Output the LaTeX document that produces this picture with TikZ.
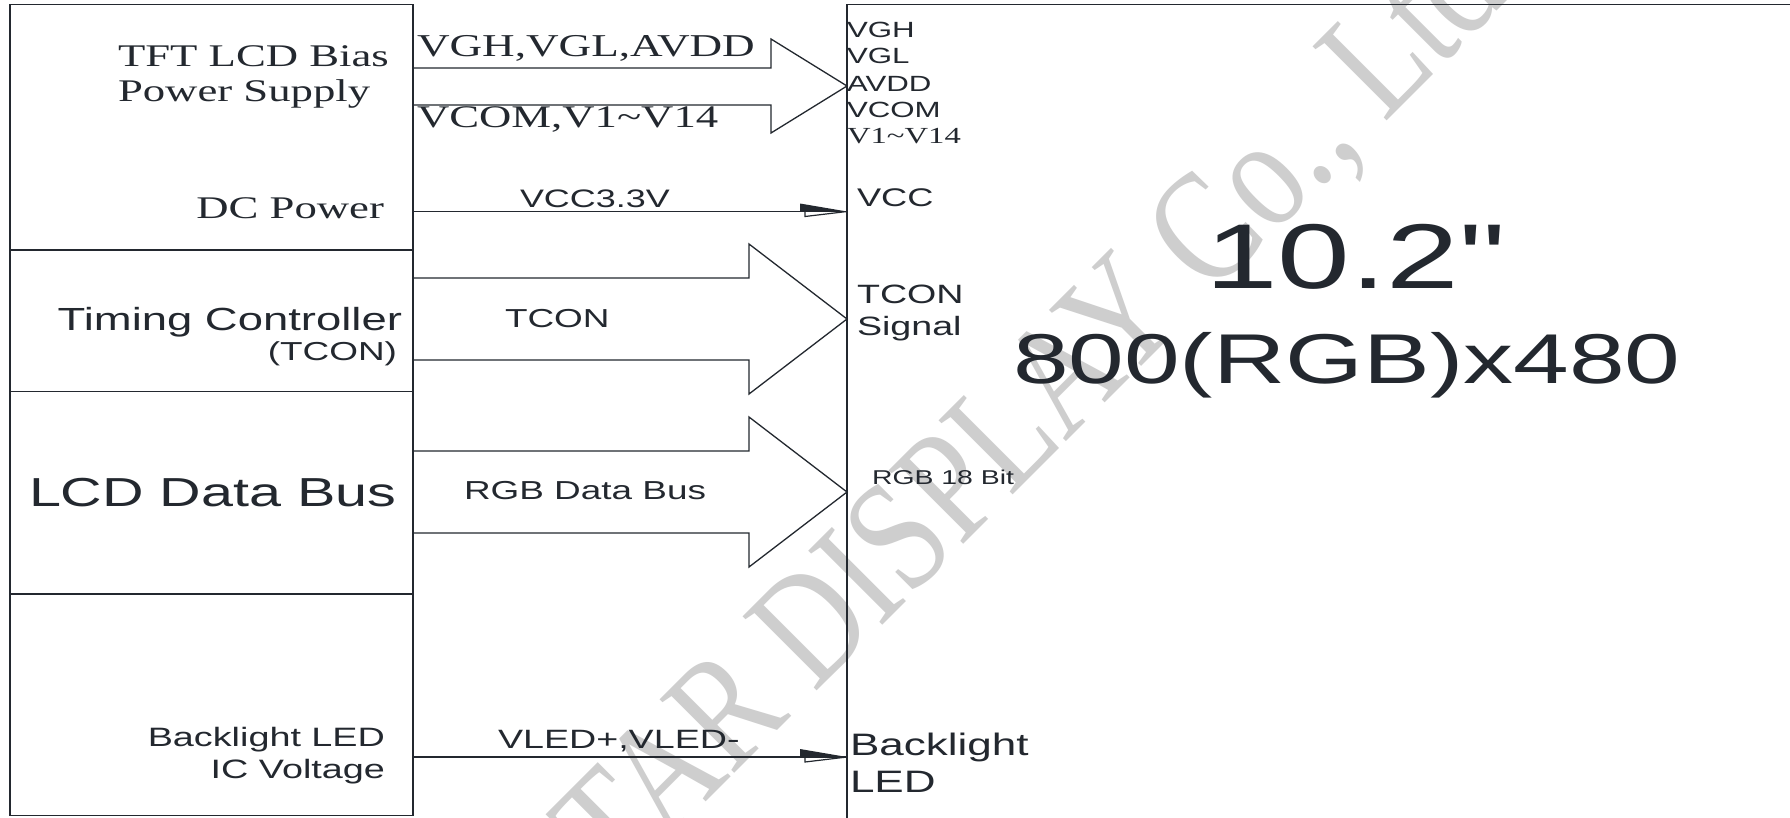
\documentclass[tikz,border=0pt]{standalone}
\usepackage{fontspec}
\newfontfamily\SerifW[FakeStretch=1.42,Ligatures=TeXOff]{Liberation Serif}
\newfontfamily\SansW[FakeStretch=1.42,Ligatures=TeXOff]{Liberation Sans}
\newfontfamily\WMfont[Ligatures=TeXOff]{Liberation Serif}
\newcommand\rmsz[1]{\SerifW\fontsize{#1}{#1}\selectfont}
\newcommand\sfsz[1]{\SansW\fontsize{#1}{#1}\selectfont}
\definecolor{ink}{RGB}{35,40,47}
\definecolor{wm}{RGB}{206,206,206}
\begin{document}
\begin{tikzpicture}[x=1pt,y=-1pt,
  box/.style={draw=ink, line width=1.4pt, inner sep=0pt, outer sep=0pt, anchor=north west},
  bigarrow/.style={draw=ink, line width=1.3pt, line join=miter},
  wire/.style={draw=ink, line width=1.4pt},
  lbl/.style={inner sep=0pt, outer sep=0pt, text=ink},
  halfhead/.pic={\fill[ink] (-47,-8) -- (0,0) -- (-47,0) -- cycle;
                 \draw[ink, line width=1.2pt] (-42,0) -- (-42,5) -- (0,0);}
]
\useasboundingbox (0,0) rectangle (1790,817);
\fill[white] (0,0) rectangle (1790,817);
\clip (0,0) rectangle (1790,817);

% watermark
\node[lbl, text=wm, anchor=base west, rotate=45] (wmark) at (618,890)
  {\WMfont\fontsize{128}{128}\selectfont\scalebox{1}[1.25]{TAR DISPLAY Co., Ltd}};

% boxes
\node[box, minimum width=403pt, minimum height=245.5pt] (sec1) at (10,4.5) {};
\node[box, minimum width=403pt, minimum height=141.5pt] (sec2) at (10,250) {};
\node[box, minimum width=403pt, minimum height=202.5pt] (sec3) at (10,391.5) {};
\node[box, minimum width=403pt, minimum height=221.5pt] (sec4) at (10,594) {};
\node[box, minimum width=1000pt, minimum height=900pt] (panel) at (847,4.5) {};

% big hollow arrows
\draw[bigarrow] (sec1.east |- 0,68) -- (771,68) -- (771,39) -- (panel.west |- 0,86)
  -- (771,133) -- (771,105) -- (sec1.east |- 0,105);
\draw[bigarrow] (sec2.east |- 0,278) -- (749,278) -- (749,244) -- (panel.west |- 0,319)
  -- (749,394) -- (749,360) -- (sec2.east |- 0,360);
\draw[bigarrow] (sec3.east |- 0,451) -- (749,451) -- (749,417) -- (panel.west |- 0,492)
  -- (749,567) -- (749,533) -- (sec3.east |- 0,533);

% thin arrows
\draw[wire] (sec1.east |- 0,211.5) -- (panel.west |- 0,211.5);
\pic at (panel.west |- 0,211.5) {halfhead};
\draw[wire] (sec4.east |- 0,757) -- (panel.west |- 0,757);
\pic at (panel.west |- 0,757) {halfhead};

% left texts
\node[lbl, anchor=base west, font=\rmsz{31.5}] (tft1) at (118,66) {TFT LCD Bias};
\node[lbl, anchor=base west, font=\rmsz{31.5}] (tft2) at (118,101) {Power Supply};
\node[lbl, anchor=base east, font=\rmsz{31.5}] (dcp) at (384,218) {DC Power};
\node[lbl, anchor=base east, font=\sfsz{32}] (tc1) at (402,330) {Timing Controller};
\node[lbl, anchor=base east, font=\sfsz{26}] (tc2) at (397,360) {(TCON)};
\node[lbl, anchor=base west, font=\sfsz{40.5}] (ldb) at (29,506) {LCD Data Bus};
\node[lbl, anchor=base east, font=\sfsz{26.6}] (bl1) at (385,746) {Backlight LED};
\node[lbl, anchor=base east, font=\sfsz{26.6}] (bl2) at (385,778) {IC Voltage};

% arrow labels
\node[lbl, anchor=base west, font=\rmsz{31.8}] (a1) at (417,56) {VGH,VGL,AVDD};
\node[lbl, anchor=base west, font=\rmsz{31.5}] (a2) at (417,127) {VCOM,V1\textasciitilde V14};
\node[lbl, anchor=base west, font=\sfsz{25.3}] (a3) at (520,207) {VCC3.3V};
\node[lbl, anchor=base west, font=\sfsz{26}] (a4) at (505,327) {TCON};
\node[lbl, anchor=base west, font=\sfsz{26}] (a5) at (464,499) {RGB Data Bus};
\node[lbl, anchor=base west, font=\sfsz{26.5}] (a6) at (498,748) {VLED+,VLED-};

% panel texts
\node[lbl, anchor=base west, font=\sfsz{22}] (r1) at (847,37) {VGH};
\node[lbl, anchor=base west, font=\sfsz{22}] (r2) at (847,63) {VGL};
\node[lbl, anchor=base west, font=\sfsz{22}] (r3) at (847,91) {AVDD};
\node[lbl, anchor=base west, font=\sfsz{22}] (r4) at (847,117) {VCOM};
\node[lbl, anchor=base west, font=\rmsz{23}] (r5) at (847,143) {V1\textasciitilde V14};
\node[lbl, anchor=base west, font=\sfsz{25.5}] (r6) at (857,206) {VCC};
\node[lbl, anchor=base west, font=\sfsz{26.5}] (r7) at (857,303) {TCON};
\node[lbl, anchor=base west, font=\sfsz{26.5}] (r8) at (857,335) {Signal};
\node[lbl, anchor=base west, font=\sfsz{20}] (r9) at (872,484) {RGB 18 Bit};
\node[lbl, anchor=base west, font=\sfsz{31}] (r10) at (850,755) {Backlight};
\node[lbl, anchor=base west, font=\sfsz{31}] (r11) at (850,792) {LED};
\node[lbl, anchor=base west, font=\sfsz{92}] (size) at (1205,288) {10.2"};
\node[lbl, anchor=base west, font=\sfsz{70.5}] (res) at (1013,383) {800(RGB)x480};
\end{tikzpicture}
\end{document}
